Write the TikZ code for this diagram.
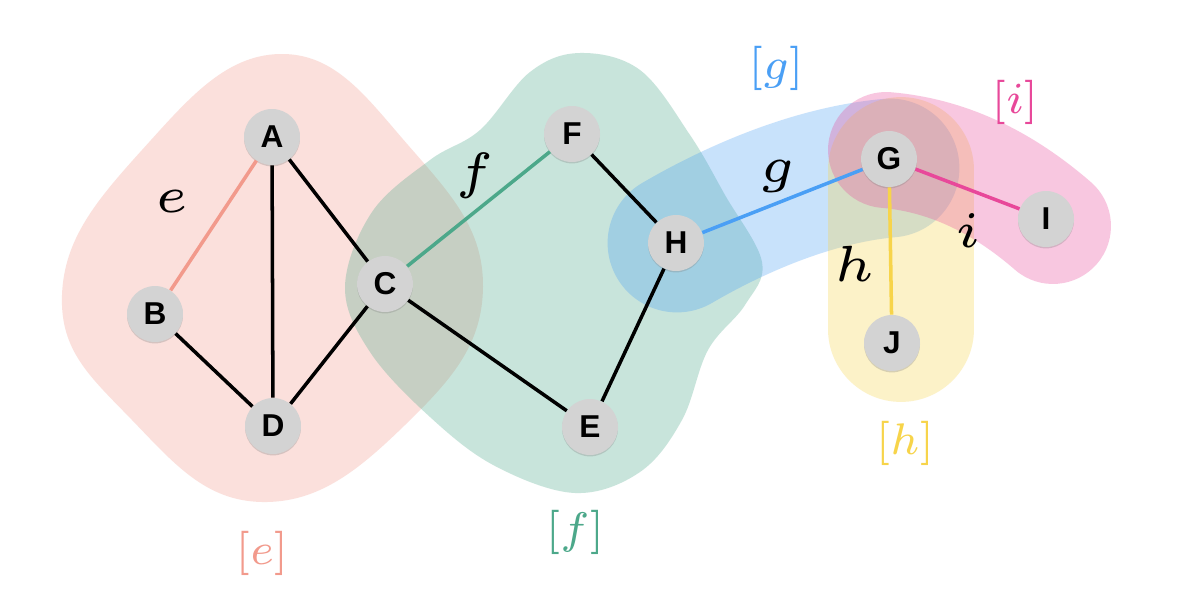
\RequirePackage{fix-cm}
\documentclass[tikz,border=0pt]{standalone}
\usepackage{fontspec}
\newfontfamily\vxfont{Liberation Sans}
\usetikzlibrary{shadows}
\definecolor{ecol}{HTML}{F29A8C}
\definecolor{fcol}{HTML}{4CA88A}
\definecolor{gcol}{HTML}{4A9FF5}
\definecolor{hcol}{HTML}{F7D44A}
\definecolor{icol}{HTML}{E8489A}
\definecolor{vxgray}{HTML}{D3D3D3}

\begin{document}
\begin{tikzpicture}[x=0.02cm, y=-0.02cm,
  vx/.style={circle, fill=vxgray, minimum size=1.12cm, inner sep=0pt,
    font=\vxfont\bfseries\fontsize{18}{18}\selectfont,
    drop shadow={shadow xshift=0pt, shadow yshift=-0.8pt, opacity=0.3}},
  ed/.style={line width=2pt},
  lab/.style={font=\fontsize{5}{6}\selectfont, scale=5.8},
  hlab/.style={font=\fontsize{7}{8}\selectfont, scale=3.6},
  blob/.style={opacity=0.3}]
\fill[white] (0,0) rectangle (1190,612);
\useasboundingbox (0,0) rectangle (1190,612);
\fill[ecol, blob] plot[smooth cycle, tension=0.75] coordinates {(280,54) (142,150) (62,295) (132,420) (262,502) (405,425) (483,287) (408,145)};
\fill[fcol, blob] plot[smooth cycle, tension=0.6] coordinates {(580,53) (640,70) (690,135) (725,195) (762,262) (745,305) (708,350) (682,420) (640,472) (575,493) (495,466) (430,417) (370,352) (345,287) (372,212) (430,160) (480,130) (530,72)};
\draw[gcol, blob, line width=79pt, line cap=round] (677,243) .. controls (730,212) and (810,175) .. (890,168);
\draw[hcol, blob, line width=83pt, line cap=round] (901,170) -- (901,329);
\draw[icol, blob, line width=66pt, line cap=round] (886,150) .. controls (945,155) and (1000,180) .. (1053,226);
\node[vx] (A) at (272,137) {A};
\node[vx] (B) at (155,314) {B};
\node[vx] (C) at (385,284) {C};
\node[vx] (D) at (273,426) {D};
\node[vx] (E) at (590,427) {E};
\node[vx] (F) at (572,134) {F};
\node[vx] (H) at (676,243) {H};
\node[vx] (G) at (889,159) {G};
\node[vx] (I) at (1046,219) {I};
\node[vx] (J) at (892,343) {J};
\draw[ed, ecol] (A)--(B);
\draw[ed] (A)--(D);
\draw[ed] (A)--(C);
\draw[ed] (B)--(D);
\draw[ed] (C)--(D);
\draw[ed, fcol] (C)--(F);
\draw[ed] (C)--(E);
\draw[ed] (F)--(H);
\draw[ed] (H)--(E);
\draw[ed, gcol] (H)--(G);
\draw[ed, hcol] (G)--(J);
\draw[ed, icol] (G)--(I);
\node[lab] (le) at (172,202) {$e$};
\node[lab] (lf) at (475,176) {$f$};
\node[lab] (lg) at (777,176) {$g$};
\node[lab] (lh) at (855,264) {$h$};
\node[lab] (li) at (968,231) {$i$};
\node[hlab, text=ecol] (he) at (262,553) {$[e]$};
\node[hlab, text=fcol] (hf) at (575,532) {$[f]$};
\node[hlab, text=gcol] (hg) at (776,68) {$[g]$};
\node[hlab, text=hcol] (hh) at (905,443) {$[h]$};
\node[hlab, text=icol] (hi) at (1015,102) {$[i]$};
\end{tikzpicture}
\end{document}
